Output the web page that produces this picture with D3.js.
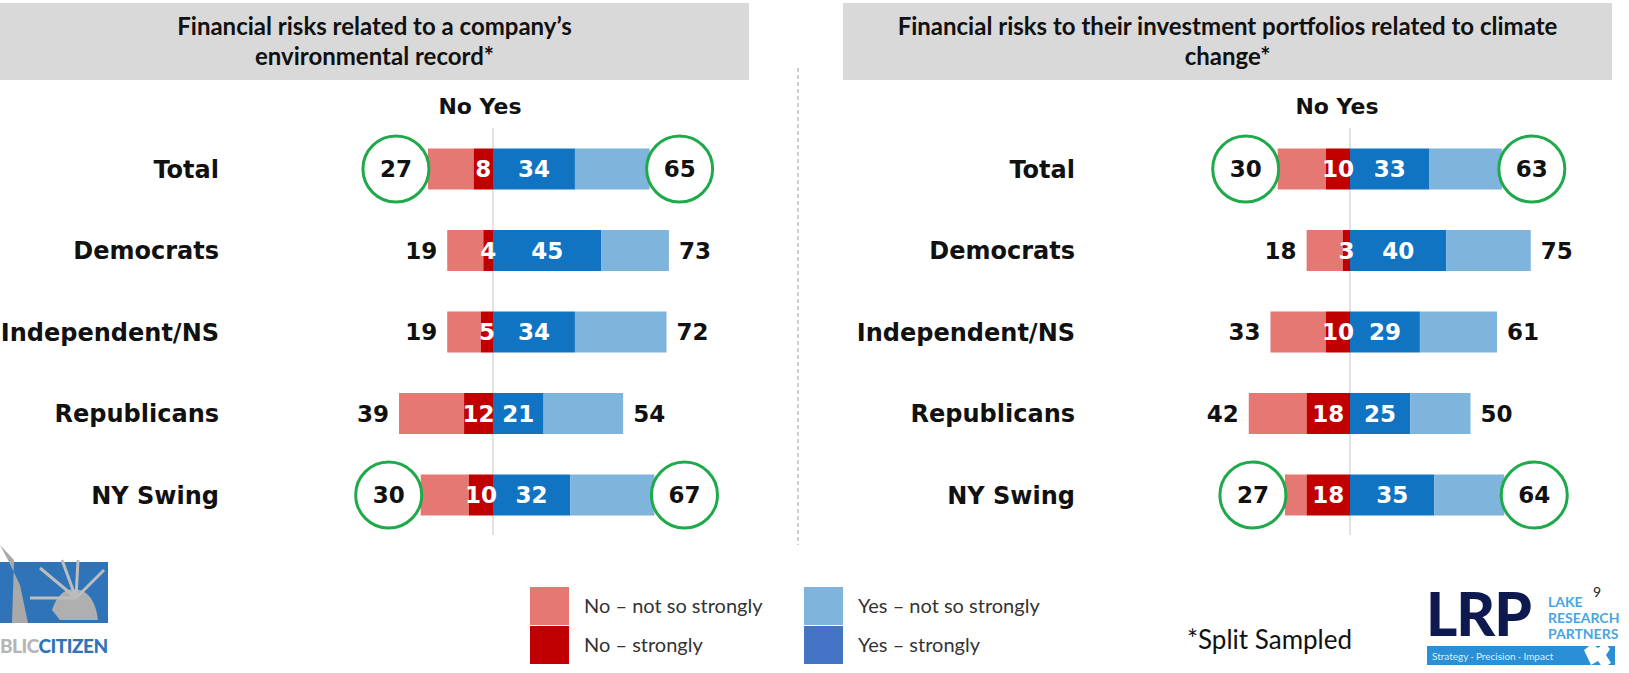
<!DOCTYPE html>
<html>
<head>
<meta charset="utf-8">
<script src="https://cdn.jsdelivr.net/npm/d3@7"></script>
<style>
  html, body { margin: 0; padding: 0; background: #fff; }
  svg { display: block; font-family: Lato, "Open Sans", sans-serif; }
  .bold { font-family: "DejaVu Sans", Verdana, sans-serif; font-weight: 700; }
</style>
</head>
<body>
<svg id="chart" width="1629" height="673"></svg>
<script>
// Survey rows
var categories = ['Total', 'Democrats', 'Independent/NS', 'Republicans', 'NY Swing'];
var circledRows = ['Total', 'NY Swing'];

// Left panel: company's environmental record
var leftTitle = ['Financial risks related to a company\u2019s', 'environmental record*'];
var leftNoTotal = [27, 19, 19, 39, 30];
var leftNoStrong = [8, 4, 5, 12, 10];
var leftYesStrong = [34, 45, 34, 21, 32];
var leftYesTotal = [65, 73, 72, 54, 67];

// Right panel: investment portfolios / climate change
var rightTitle = ['Financial risks to their investment portfolios related to climate', 'change*'];
var rightNoTotal = [30, 18, 33, 42, 27];
var rightNoStrong = [10, 3, 10, 18, 18];
var rightYesStrong = [33, 40, 29, 25, 35];
var rightYesTotal = [63, 75, 61, 50, 64];

var legendLabels = ['No \u2013 not so strongly', 'No \u2013 strongly', 'Yes \u2013 not so strongly', 'Yes \u2013 strongly'];

var COLORS = {
  noSoft: '#E57873',
  noStrong: '#C00000',
  yesStrong: '#1174C3',
  yesSoft: '#7FB4DC',
  legendYesStrong: '#4472C4',
  circle: '#1EAA4A',
  header: '#D9D9D9',
  axis: '#D9D9D9'
};

var svg = d3.select('#chart');

var y = d3.scalePoint().domain(categories).range([169, 495]);
var BAR_H = 41;
var UNIT = 2.41; // px per percentage point
var NUM_SIZE = 23;

function panel(opts) {
  var g = svg.append('g');
  var x = d3.scaleLinear().domain([-100, 100]).range([opts.center - 100 * UNIT, opts.center + 100 * UNIT]);

  // header box
  var cx = (opts.boxX0 + opts.boxX1) / 2;
  g.append('rect')
    .attr('x', opts.boxX0).attr('y', 3)
    .attr('width', opts.boxX1 - opts.boxX0).attr('height', 77)
    .attr('fill', COLORS.header);
  g.append('text')
    .attr('x', cx).attr('y', 35)
    .attr('text-anchor', 'middle')
    .attr('font-size', 24).attr('font-weight', 700).attr('fill', '#111')
    .selectAll('tspan').data(opts.title).join('tspan')
    .attr('x', cx)
    .attr('dy', function (d, i) { return i ? 30 : 0; })
    .text(function (d) { return d; });

  g.append('text')
    .attr('class', 'bold')
    .attr('x', opts.center - 13).attr('y', 114)
    .attr('text-anchor', 'middle')
    .attr('font-size', 22).attr('fill', '#111')
    .text('No Yes');

  // center line
  g.append('line')
    .attr('x1', x(0)).attr('x2', x(0))
    .attr('y1', 128).attr('y2', 535)
    .attr('stroke', COLORS.axis).attr('stroke-width', 1.5);

  var rows = categories.map(function (c, i) {
    return {
      cat: c,
      noTotal: opts.noTotal[i],
      noStrong: opts.noStrong[i],
      yesStrong: opts.yesStrong[i],
      yesTotal: opts.yesTotal[i],
      circled: circledRows.indexOf(c) >= 0
    };
  });

  var row = g.selectAll('g.row').data(rows).join('g')
    .attr('class', 'row')
    .attr('transform', function (d) { return 'translate(0,' + y(d.cat) + ')'; });

  row.append('text')
    .attr('class', 'bold')
    .attr('x', opts.labelX).attr('y', 0).attr('dy', '0.36em')
    .attr('text-anchor', 'end')
    .attr('font-size', 24).attr('fill', '#111')
    .text(function (d) { return d.cat; });

  function seg(x0, x1, color) {
    row.append('rect')
      .attr('x', function (d) { return Math.min(x(x0(d)), x(x1(d))); })
      .attr('width', function (d) { return Math.abs(x(x1(d)) - x(x0(d))); })
      .attr('y', -BAR_H / 2).attr('height', BAR_H)
      .attr('fill', color);
  }
  seg(function (d) { return -d.noTotal; }, function (d) { return -d.noStrong; }, COLORS.noSoft);
  seg(function (d) { return -d.noStrong; }, function () { return 0; }, COLORS.noStrong);
  seg(function () { return 0; }, function (d) { return d.yesStrong; }, COLORS.yesStrong);
  seg(function (d) { return d.yesStrong; }, function (d) { return d.yesTotal; }, COLORS.yesSoft);

  // in-bar labels
  row.append('text')
    .attr('class', 'bold')
    .attr('x', function (d) { return x(-d.noStrong / 2); })
    .attr('dy', '0.36em').attr('text-anchor', 'middle')
    .attr('font-size', NUM_SIZE).attr('fill', '#fff')
    .text(function (d) { return d.noStrong; });
  row.append('text')
    .attr('class', 'bold')
    .attr('x', function (d) { return x(d.yesStrong / 2); })
    .attr('dy', '0.36em').attr('text-anchor', 'middle')
    .attr('font-size', NUM_SIZE).attr('fill', '#fff')
    .text(function (d) { return d.yesStrong; });

  // circles for highlighted rows
  row.filter(function (d) { return d.circled; }).each(function (d) {
    var el = d3.select(this);
    el.append('circle').attr('cx', x(-d.noTotal) - 32).attr('cy', 0).attr('r', 33)
      .attr('fill', '#fff').attr('stroke', COLORS.circle).attr('stroke-width', 3);
    el.append('circle').attr('cx', x(d.yesTotal) + 30).attr('cy', 0).attr('r', 33)
      .attr('fill', '#fff').attr('stroke', COLORS.circle).attr('stroke-width', 3);
  });

  // totals
  row.append('text')
    .attr('class', 'bold')
    .attr('x', function (d) { return d.circled ? x(-d.noTotal) - 32 : x(-d.noTotal) - 10; })
    .attr('dy', '0.36em')
    .attr('text-anchor', function (d) { return d.circled ? 'middle' : 'end'; })
    .attr('font-size', NUM_SIZE).attr('fill', '#111')
    .text(function (d) { return d.noTotal; });
  row.append('text')
    .attr('class', 'bold')
    .attr('x', function (d) { return d.circled ? x(d.yesTotal) + 30 : x(d.yesTotal) + 10; })
    .attr('dy', '0.36em')
    .attr('text-anchor', function (d) { return d.circled ? 'middle' : 'start'; })
    .attr('font-size', NUM_SIZE).attr('fill', '#111')
    .text(function (d) { return d.yesTotal; });
}

panel({ center: 493, boxX0: 0, boxX1: 749, labelX: 219, title: leftTitle,
  noTotal: leftNoTotal, noStrong: leftNoStrong, yesStrong: leftYesStrong, yesTotal: leftYesTotal });
panel({ center: 1350, boxX0: 843, boxX1: 1612, labelX: 1075, title: rightTitle,
  noTotal: rightNoTotal, noStrong: rightNoStrong, yesStrong: rightYesStrong, yesTotal: rightYesTotal });

// dashed separator
svg.append('line')
  .attr('x1', 798).attr('x2', 798).attr('y1', 68).attr('y2', 545)
  .attr('stroke', '#BFBFBF').attr('stroke-width', 1.5).attr('stroke-dasharray', '4,3');

// legend
var legendColors = [COLORS.noSoft, COLORS.noStrong, COLORS.yesSoft, COLORS.legendYesStrong];
var legend = svg.append('g').selectAll('g').data(legendLabels).join('g')
  .attr('transform', function (d, i) {
    return 'translate(' + (i < 2 ? 530 : 804) + ',' + (i % 2 ? 626 : 587) + ')';
  });
legend.append('rect').attr('width', 39).attr('height', 38)
  .attr('fill', function (d, i) { return legendColors[i]; });
legend.append('text').attr('x', 54).attr('y', 19).attr('dy', '0.35em')
  .attr('font-size', 20).attr('fill', '#333').text(function (d) { return d; });

svg.append('text').attr('x', 1187).attr('y', 640).attr('dy', '0.35em')
  .attr('font-size', 26).attr('fill', '#111').text('*Split Sampled');

// Lake Research Partners mark
var lrp = svg.append('g');
lrp.append('text').attr('x', 1426).attr('y', 636)
  .attr('font-size', 60).attr('font-weight', 900).attr('fill', '#0E1A4F')
  .attr('letter-spacing', -1).text('LRP');
lrp.append('text').attr('x', 1548).attr('y', 607)
  .attr('font-size', 14).attr('font-weight', 700).attr('fill', '#4AA5DF')
  .selectAll('tspan').data(['LAKE', 'RESEARCH', 'PARTNERS']).join('tspan')
  .attr('x', 1548).attr('dy', function (d, i) { return i ? 16 : 0; })
  .text(function (d) { return d; });
lrp.append('rect').attr('x', 1427).attr('y', 646).attr('width', 188).attr('height', 19).attr('fill', '#2A8FD4');
lrp.append('text').attr('x', 1432).attr('y', 660).attr('font-size', 10).attr('fill', '#DDEEFA')
  .text('Strategy \u00b7 Precision \u00b7 Impact');
lrp.append('path').attr('d', 'M1584,650 l8,-6 l6,4 l7,-5 l5,6 l-4,6 l5,8 l-8,5 l-5,-7 l-7,4 Z').attr('fill', '#fff');
lrp.append('text').attr('x', 1593).attr('y', 597).attr('font-size', 14).attr('fill', '#222').text('9');

// Public Citizen mark
var pc = svg.append('g');
pc.append('rect').attr('x', 0).attr('y', 562).attr('width', 108).attr('height', 61).attr('fill', '#2F73B8');
pc.append('path').attr('d', 'M0,545 L14,560 L12,623 L28,623 L20,585 L8,560 Z').attr('fill', '#A9A9A9');
pc.append('path').attr('d', 'M52,610 Q60,585 80,590 Q95,595 98,620 L60,620 Z').attr('fill', '#AFAFAF');
[[40, 568], [62, 560], [78, 560], [104, 570], [30, 598]].forEach(function (p) {
  pc.append('line').attr('x1', 76).attr('y1', 598).attr('x2', p[0]).attr('y2', p[1])
    .attr('stroke', '#BDBDBD').attr('stroke-width', 3);
});
var pcText = pc.append('text').attr('x', 0).attr('y', 653).attr('font-size', 19).attr('font-weight', 900)
  .attr('letter-spacing', -0.5);
pcText.append('tspan').attr('fill', '#B5B5B5').text('BLIC');
pcText.append('tspan').attr('fill', '#2F73B8').text('CITIZEN');
</script>
</body>
</html>
